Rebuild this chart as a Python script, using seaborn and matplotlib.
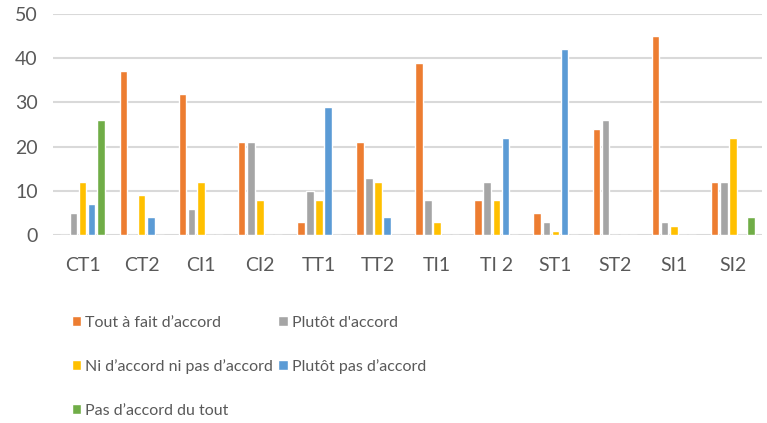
import pandas as pd
import matplotlib.pyplot as plt
import seaborn as sns

# --- Data ---
items = ["CT1", "CT2", "CI1", "CI2", "TT1", "TT2", "TI1", "TI 2", "ST1", "ST2", "SI1", "SI2"]
answers = ["Tout à fait d’accord", "Plutôt d'accord", "Ni d’accord ni pas d’accord",
           "Plutôt pas d’accord", "Pas d’accord du tout"]
tout_a_fait = [0, 37, 32, 21, 3, 21, 39, 8, 5, 24, 45, 12]
plutot = [5, 0, 6, 21, 10, 13, 8, 12, 3, 26, 3, 12]
ni_ni = [12, 9, 12, 8, 8, 12, 3, 8, 1, 0, 2, 22]
plutot_pas = [7, 4, 0, 0, 29, 4, 0, 22, 42, 0, 0, 0]
pas_du_tout = [26, 0, 0, 0, 0, 0, 0, 0, 0, 0, 0, 4]
colors = ["#ED7D31", "#A5A5A5", "#FFC000", "#5B9BD5", "#70AD47"]


def build_frame() -> pd.DataFrame:
    series = [tout_a_fait, plutot, ni_ni, plutot_pas, pas_du_tout]
    rows = []
    for answer, values in zip(answers, series):
        for item, v in zip(items, values):
            rows.append({"Item": item, "Réponse": answer, "Nombre": v})
    return pd.DataFrame(rows)


def plot_answers(df: pd.DataFrame):
    sns.set_style("white")
    plt.rcParams["font.family"] = ["Lato", "DejaVu Sans"]
    fig = plt.figure(figsize=(7.67, 4.23), dpi=100)
    ax = fig.add_axes([0.069, 0.444, 0.925, 0.523])

    sns.barplot(data=df, x="Item", y="Nombre", hue="Réponse", order=items,
                hue_order=answers, palette=colors, width=0.77, gap=0.16,
                saturation=1, ax=ax)

    ax.set_ylim(0, 50)
    ax.set_yticks(range(0, 51, 10))
    ax.set_xlim(-0.5, len(items) - 0.5)
    ax.yaxis.grid(True, color="#D9D9D9", linewidth=1.5)
    ax.set_axisbelow(True)
    for side in ["top", "right", "left", "bottom"]:
        ax.spines[side].set_visible(False)
    ax.tick_params(axis="y", length=0, pad=11, labelsize=14, labelcolor="#595959")
    ax.tick_params(axis="x", length=0, pad=16, labelsize=14, labelcolor="#595959")
    ax.set_xlabel("")
    ax.set_ylabel("")

    # legend fills row by row in the reference
    handles, labels = ax.get_legend_handles_labels()
    ax.get_legend().remove()
    order = [0, 2, 4, 1, 3]
    fig.legend([handles[i] for i in order], [labels[i] for i in order],
               loc="upper left", bbox_to_anchor=(0.075, 0.288),
               ncol=2, frameon=False, fontsize=11.5, labelcolor="#595959",
               handlelength=0.6, handleheight=0.6, handletextpad=0.25,
               columnspacing=0.3, labelspacing=1.85)

    fig.savefig("out.png", dpi=100)


# --- Main ---
def main():
    df = build_frame()
    plot_answers(df)


if __name__ == "__main__":
    main()
